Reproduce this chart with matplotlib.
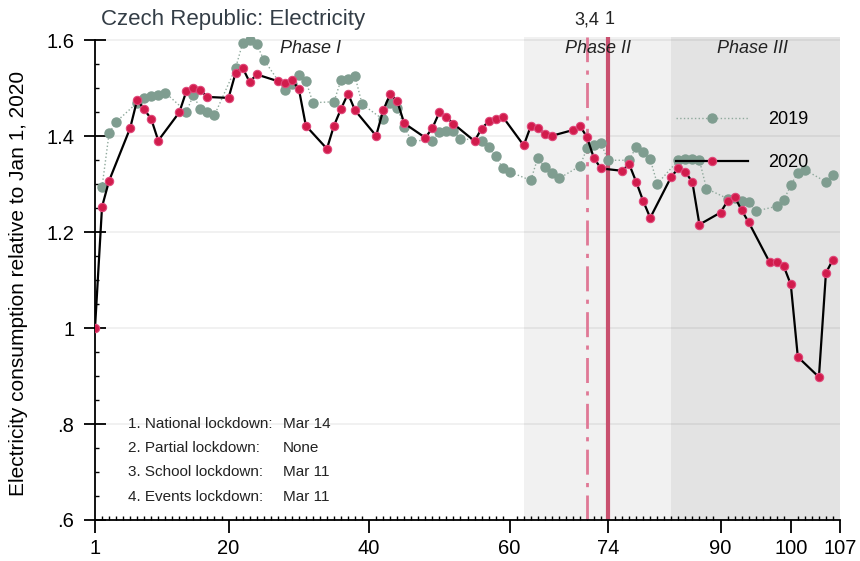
import matplotlib
matplotlib.use("Agg")
import matplotlib.pyplot as plt
from matplotlib.ticker import FixedLocator, MultipleLocator

plt.rcParams['font.family'] = ['Liberation Sans', 'DejaVu Sans']

# day of year (working days) and consumption relative to Jan 1, 2020
days_2020 = [1, 2, 3, 6, 7, 8, 9, 10, 13, 14, 15, 16, 17, 20, 21, 22, 23, 24,
             27, 28, 29, 30, 31, 34, 35, 36, 37, 38, 41, 42, 43, 44, 45,
             48, 49, 50, 51, 52, 55, 56, 57, 58, 59, 62, 63, 64, 65, 66,
             69, 70, 71, 72, 73, 76, 77, 78, 79, 80, 83, 84, 85, 86, 87,
             90, 91, 92, 93, 94, 97, 98, 99, 100, 101, 104, 105, 106]
vals_2020 = [1.000, 1.253, 1.307, 1.417, 1.476, 1.456, 1.436, 1.391,
             1.450, 1.494, 1.501, 1.496, 1.482, 1.480, 1.532, 1.543, 1.513, 1.529,
             1.515, 1.512, 1.517, 1.499, 1.422, 1.374, 1.422, 1.457, 1.489, 1.454,
             1.401, 1.454, 1.488, 1.473, 1.427, 1.397, 1.417, 1.450, 1.440, 1.426,
             1.390, 1.416, 1.431, 1.436, 1.441, 1.381, 1.421, 1.417, 1.405, 1.401,
             1.413, 1.422, 1.398, 1.354, 1.333, 1.328, 1.342, 1.305, 1.265, 1.230,
             1.316, 1.333, 1.326, 1.304, 1.216, 1.241, 1.265, 1.274, 1.246, 1.221,
             1.137, 1.137, 1.129, 1.091, 0.940, 0.898, 1.115, 1.143]

days_2019 = [2, 3, 4, 7, 8, 9, 10, 11, 14, 15, 16, 17, 18, 21, 22, 23, 24, 25,
             28, 29, 30, 31, 32, 35, 36, 37, 38, 39, 42, 43, 44, 45, 46,
             49, 50, 51, 52, 53, 56, 57, 58, 59, 60, 63, 64, 65, 66, 67,
             70, 71, 72, 73, 74, 77, 78, 79, 80, 81, 84, 85, 86, 87, 88,
             91, 92, 93, 94, 95, 98, 99, 100, 101, 102, 105, 106]
vals_2019 = [1.294, 1.406, 1.430, 1.470, 1.479, 1.484, 1.486, 1.491,
             1.451, 1.486, 1.456, 1.451, 1.444, 1.542, 1.594, 1.601, 1.592, 1.560,
             1.496, 1.510, 1.528, 1.516, 1.470, 1.472, 1.517, 1.519, 1.525, 1.467,
             1.435, 1.470, 1.460, 1.420, 1.391, 1.391, 1.409, 1.411, 1.411, 1.395,
             1.391, 1.377, 1.358, 1.334, 1.326, 1.308, 1.355, 1.335, 1.323, 1.312,
             1.338, 1.375, 1.381, 1.385, 1.350, 1.350, 1.378, 1.367, 1.352, 1.301,
             1.350, 1.352, 1.352, 1.350, 1.291, 1.270, 1.272, 1.265, 1.263, 1.244,
             1.254, 1.267, 1.298, 1.324, 1.330, 1.305, 1.319]

phases = [("Phase I", 1, 62), ("Phase II", 62, 83), ("Phase III", 83, 107)]
phase_colors = [None, "#f1f1f1", "#e3e3e3"]
lockdown_notes = [("1. National lockdown:", "Mar 14"),
                  ("2. Partial lockdown:", "None"),
                  ("3. School lockdown:", "Mar 11"),
                  ("4. Events lockdown:", "Mar 11")]
xticks = [1, 20, 40, 60, 74, 90, 100, 107]
yticks = [0.6, 0.8, 1.0, 1.2, 1.4, 1.6]
ytick_labels = [".6", ".8", "1", "1.2", "1.4", "1.6"]

fig = plt.figure(figsize=(8.6, 5.61), dpi=100)
ax = fig.add_axes([95/860, 1 - 520/561, 745/860, 483/561])

ax.set_xlim(1, 107)
ax.set_ylim(0.6, 1.607)

# phase shading
for (name, start, end), col in zip(phases, phase_colors):
    if col:
        ax.axvspan(start, end, color=col, lw=0, zorder=0)
phase_label_x = [31.6, 72.5, 94.5]
for (name, start, end), lx in zip(phases, phase_label_x):
    ax.text(lx, 1.584, name, ha="center", va="center", style="italic",
            fontsize=13, color="#222222", zorder=5)

# grid
for yv in yticks[1:]:
    ax.axhline(yv, color=(0, 0, 0, 0.06), lw=1.3, zorder=1)

# lockdown lines
ax.axvline(71, color="#e07896", lw=2, ls=(0, (9, 3, 1.5, 3)), zorder=2)
ax.axvline(74, color="#c9506f", lw=3, zorder=2)

l19, = ax.plot(days_2019, vals_2019, ls=":", lw=1, color="#8fa99c",
               marker="o", ms=6.5, mfc="#7f9d90", mec="#7f9d90", zorder=3)
l20, = ax.plot(days_2020, vals_2020, ls="-", lw=1.6, color="black",
               marker="o", ms=6, mfc="#d11c4c", mec="#e0487a", mew=0.8, zorder=4)

ax.legend([l19, l20], ["2019", "2020"], loc="upper left",
          bbox_to_anchor=(0.78, 0.847), frameon=False, fontsize=13,
          handlelength=4, handletextpad=1.1, labelspacing=1.45,
          borderpad=0, borderaxespad=0, numpoints=1)

# lockdown notes
note_y = [0.80, 0.75, 0.70, 0.648]
for (lab, val), yv in zip(lockdown_notes, note_y):
    ax.text(5.7, yv, lab, ha="left", va="center", fontsize=11, color="#222222")
    ax.text(27.7, yv, val, ha="left", va="center", fontsize=11, color="#222222")

# axes styling
for s in ["top", "right"]:
    ax.spines[s].set_visible(False)
ax.spines["left"].set_bounds(0.6, 1.6)
ax.spines["left"].set_linewidth(1.3)
ax.spines["bottom"].set_linewidth(1.3)

ax.xaxis.set_major_locator(FixedLocator(xticks))
ax.set_xticklabels([str(t) for t in xticks])
ax.xaxis.set_minor_locator(MultipleLocator(1))
ax.yaxis.set_major_locator(FixedLocator(yticks))
ax.set_yticklabels(ytick_labels)
ax.yaxis.set_minor_locator(MultipleLocator(0.05))

ax.tick_params(axis="x", which="major", direction="out", length=9, width=1.3,
               labelsize=14.5, pad=5)
ax.tick_params(axis="x", which="minor", direction="in", length=3, width=1)
ax.tick_params(axis="y", which="major", direction="inout", length=16, width=1.3,
               labelsize=14.5, pad=7)
ax.tick_params(axis="y", which="minor", direction="in", length=3, width=1)

ax.set_ylabel("Electricity consumption relative to Jan 1, 2020", fontsize=15)
ax.yaxis.set_label_coords(-0.09, 0.49)

fig.text(101/860, 1 - 20/561, "Czech Republic: Electricity", fontsize=16,
         color="#333d46", ha="left", va="center")
fig.text(587/860, 1 - 20/561, "3,4", fontsize=13, ha="center", va="center",
         color="#222222")
fig.text(610/860, 1 - 20/561, "1", fontsize=13, ha="center", va="center",
         color="#222222")

fig.savefig("out.png", dpi=100)
